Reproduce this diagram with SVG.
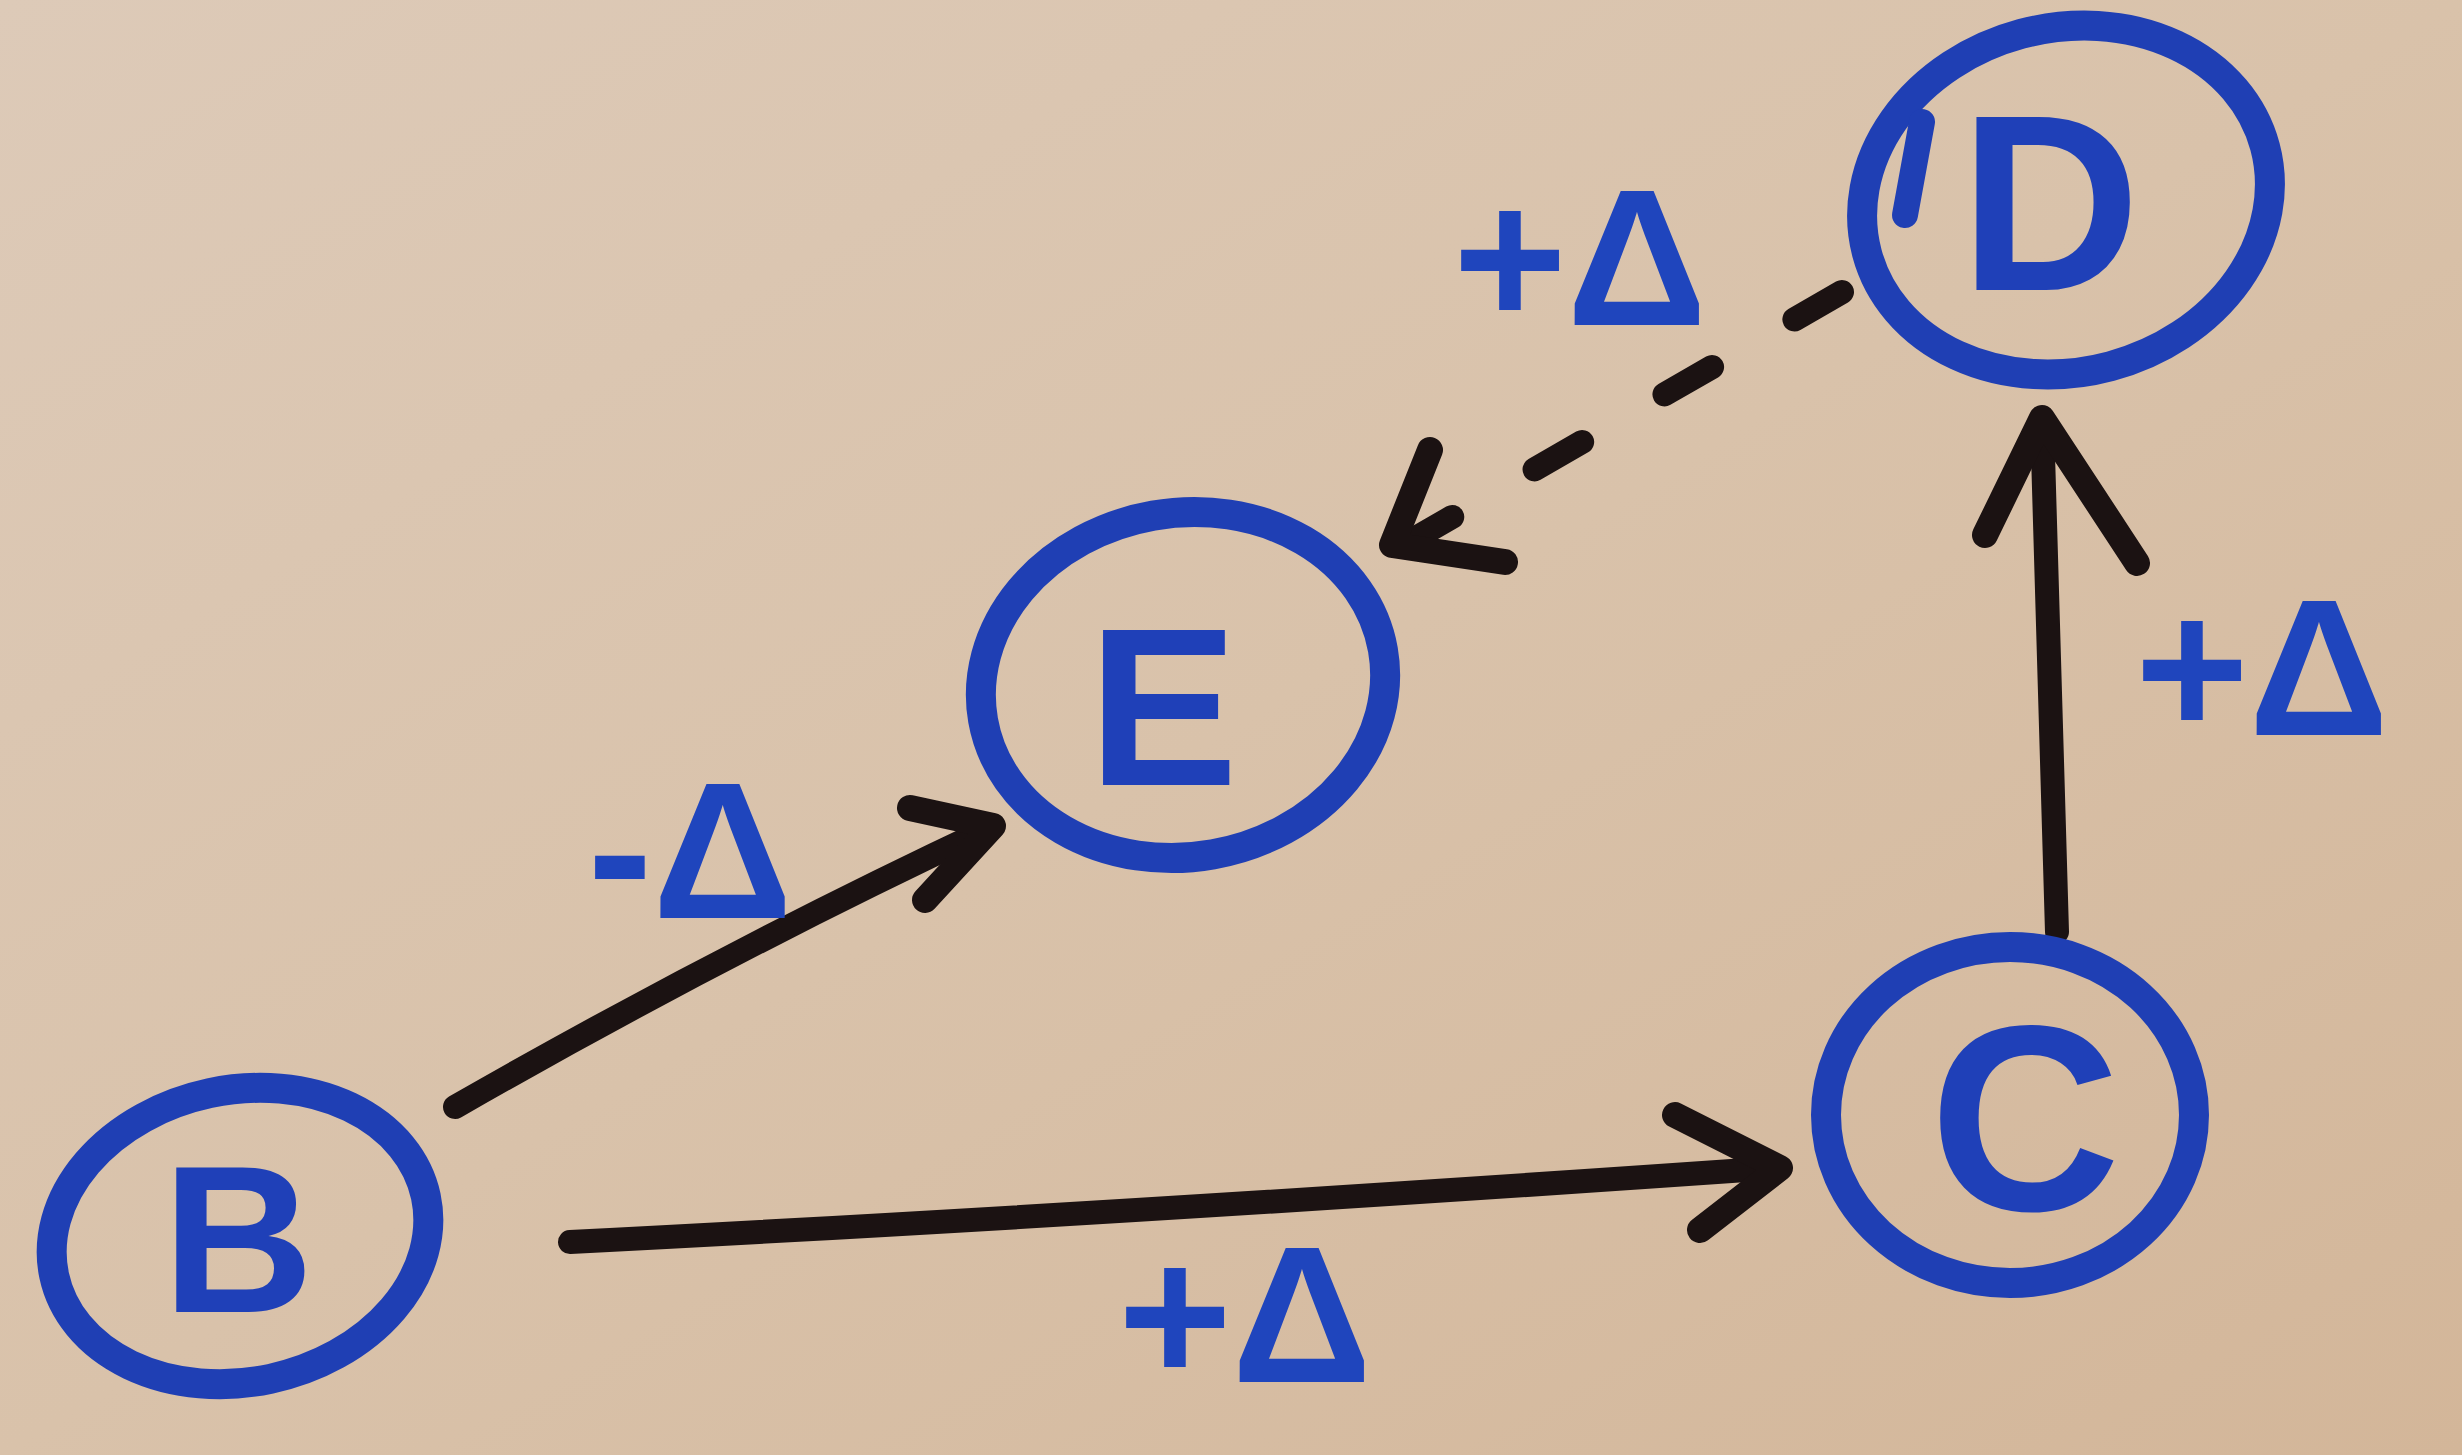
<svg xmlns="http://www.w3.org/2000/svg" width="2462" height="1455" viewBox="0 0 2462 1455">
  <defs>
    <linearGradient id="paper" x1="0" y1="0" x2="1" y2="1">
      <stop offset="0" stop-color="#ddcab8"/>
      <stop offset="0.5" stop-color="#d9c2aa"/>
      <stop offset="1" stop-color="#d3b699"/>
    </linearGradient>
    <style>
      .ring { fill: none; stroke: #1f3fb4; stroke-width: 30; }
      .letter { fill: #1f40b8; font-family: "Liberation Sans", Arial, sans-serif; font-weight: bold; text-anchor: middle; }
      .lbl { fill: #1f45bd; font-family: "Liberation Sans", Arial, sans-serif; font-weight: bold; font-size: 195px; text-anchor: middle; }
      .edge { fill: none; stroke: #1b1212; stroke-width: 24; stroke-linecap: round; }
      .head { fill: none; stroke: #1b1212; stroke-width: 26; stroke-linecap: round; stroke-linejoin: round; }
    </style>
  </defs>
  <rect x="0" y="0" width="2462" height="1455" fill="url(#paper)"/>

  <g id="connectors">
    <g id="edge-B-E">
      <path class="edge" d="M455,1107 Q720,955 990,828"/>
      <path class="head" d="M910,808 L993,826 L925,900"/>
      <text class="lbl" x="690" y="918">-Δ</text>
    </g>
    <g id="edge-B-C">
      <path class="edge" d="M570,1242 Q1100,1215 1775,1168"/>
      <path class="head" d="M1675,1115 L1780,1168 L1700,1230"/>
      <text class="lbl" x="1245" y="1382">+Δ</text>
    </g>
    <g id="edge-C-D">
      <path class="edge" d="M2057,932 Q2050,680 2042,420"/>
      <path class="head" d="M1985,535 L2042,418 L2137,563"/>
      <text class="lbl" x="2262" y="735">+Δ</text>
    </g>
    <g id="edge-D-E">
      <path class="edge" d="M1842,292 L1395,550" stroke-dasharray="55 95" stroke-width="24"/>
      <path class="head" d="M1430,450 L1392,545 L1505,562"/>
      <text class="lbl" x="1580" y="325">+Δ</text>
    </g>
  </g>

  <g id="node-B">
    <ellipse class="ring" cx="240" cy="1236" rx="190" ry="146" transform="rotate(-12 240 1236)" stroke="#2a2fa8"/>
    <text class="letter" x="238" y="1312" font-size="210" fill="#2a35b0">B</text>
  </g>
  <g id="node-E">
    <ellipse class="ring" cx="1183" cy="685" rx="203" ry="172" transform="rotate(-10 1183 685)"/>
    <text class="letter" x="1163" y="785" font-size="225">E</text>
  </g>
  <g id="node-C">
    <ellipse class="ring" cx="2010" cy="1115" rx="184" ry="168"/>
    <text class="letter" x="2025" y="1210" font-size="265">C</text>
  </g>
  <g id="node-D">
    <ellipse class="ring" cx="2066" cy="200" rx="206" ry="172" transform="rotate(-15 2066 200)"/>
    <path d="M1922,122 L1905,215" fill="none" stroke="#1f3fb4" stroke-width="26" stroke-linecap="round"/>
    <text class="letter" x="2050" y="290" font-size="250">D</text>
  </g>
</svg>
